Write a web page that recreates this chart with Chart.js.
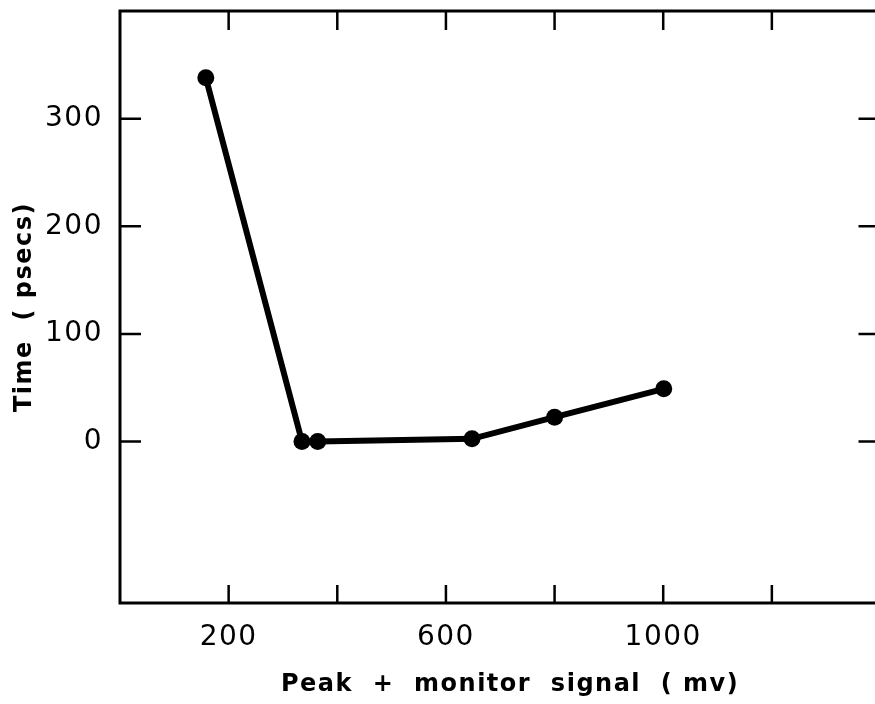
<!DOCTYPE html>
<html>
<head>
<meta charset="utf-8">
<script src="https://cdn.jsdelivr.net/npm/chart.js@4"></script>
<style>
    html, body { margin: 0; padding: 0; background: #fff; overflow: hidden; width: 875px; height: 704px; }
    #wrap { width: 889px; height: 704px; }
</style>
</head>
<body>
<div id="wrap"><canvas id="chart" width="889" height="704"></canvas></div>
<script>
// Data
const signalMv = [158, 335, 364, 648, 800, 1001];
const timePs = [338, 0, 0, 2.5, 22.6, 49];

// Axis ticks (all marks) and which of them carry a label
const xTicks = [200, 400, 600, 800, 1000, 1200];
const xLabelled = [200, 600, 1000];
const yTicks = [0, 100, 200, 300];
const yLabelled = [0, 100, 200, 300];

const ink = '#000';
const tickFont = { family: "'DejaVu Sans', sans-serif", size: 28 };
const titleFont = { family: "'DejaVu Sans', sans-serif", size: 24, weight: 'bold' };

// Frame with inward tick marks on all four sides
const framePlugin = {
    id: 'frame',
    afterDraw(chart) {
        const { ctx, chartArea: a, scales } = chart;
        ctx.save();
        ctx.strokeStyle = ink;
        ctx.lineWidth = 3;
        ctx.strokeRect(a.left, a.top, a.right - a.left, a.bottom - a.top);
        ctx.lineWidth = 2.5;
        ctx.beginPath();
        xTicks.forEach(v => {
            const px = scales.x.getPixelForValue(v);
            ctx.moveTo(px, a.bottom); ctx.lineTo(px, a.bottom - 18);
            ctx.moveTo(px, a.top); ctx.lineTo(px, a.top + 19);
        });
        yTicks.forEach(v => {
            const py = scales.y.getPixelForValue(v);
            ctx.moveTo(a.left, py); ctx.lineTo(a.left + 21, py);
            ctx.moveTo(a.right, py); ctx.lineTo(a.right - 22, py);
        });
        ctx.stroke();
        ctx.restore();
    }
};

const spacing = {
    id: 'spacing',
    beforeDraw(chart) { chart.ctx.letterSpacing = '1.5px'; }
};

new Chart(document.getElementById('chart'), {
    type: 'line',
    data: {
        datasets: [{
            data: signalMv.map((x, i) => ({ x, y: timePs[i] })),
            borderColor: ink,
            borderWidth: 6,
            backgroundColor: ink,
            pointRadius: 8.5,
            pointBorderWidth: 0,
            pointBackgroundColor: ink,
            tension: 0
        }]
    },
    options: {
        responsive: false,
        animation: false,
        devicePixelRatio: 1,
        layout: { padding: { top: 11, right: 0 } },
        plugins: { legend: { display: false }, tooltip: { enabled: false } },
        scales: {
            x: {
                type: 'linear',
                min: 0,
                max: 1400,
                afterBuildTicks: s => { s.ticks = xTicks.map(v => ({ value: v })); },
                afterFit: s => { s.height = 101; s.paddingLeft = 0; s.paddingRight = 0; },
                grid: { display: false },
                border: { display: false },
                ticks: {
                    autoSkip: false,
                    maxRotation: 0,
                    color: ink,
                    font: tickFont,
                    padding: 10,
                    callback: v => xLabelled.includes(v) ? String(v) : ''
                },
                title: {
                    display: true,
                    text: '  Peak  +  monitor  signal  ( mv)',
                    color: ink,
                    font: titleFont,
                    padding: { top: 0, bottom: 5 }
                }
            },
            y: {
                min: -150,
                max: 400,
                afterBuildTicks: s => { s.ticks = yTicks.map(v => ({ value: v })); },
                afterFit: s => { s.width = 120; s.paddingTop = 0; s.paddingBottom = 0; },
                grid: { display: false },
                border: { display: false },
                ticks: {
                    color: ink,
                    font: tickFont,
                    padding: 9,
                    callback: v => yLabelled.includes(v) ? String(v) : ''
                },
                title: {
                    display: true,
                    text: 'Time  ( psecs)',
                    color: ink,
                    font: titleFont,
                    padding: { top: 10, bottom: 0 }
                }
            }
        }
    },
    plugins: [spacing, framePlugin]
});
</script>
</body>
</html>
